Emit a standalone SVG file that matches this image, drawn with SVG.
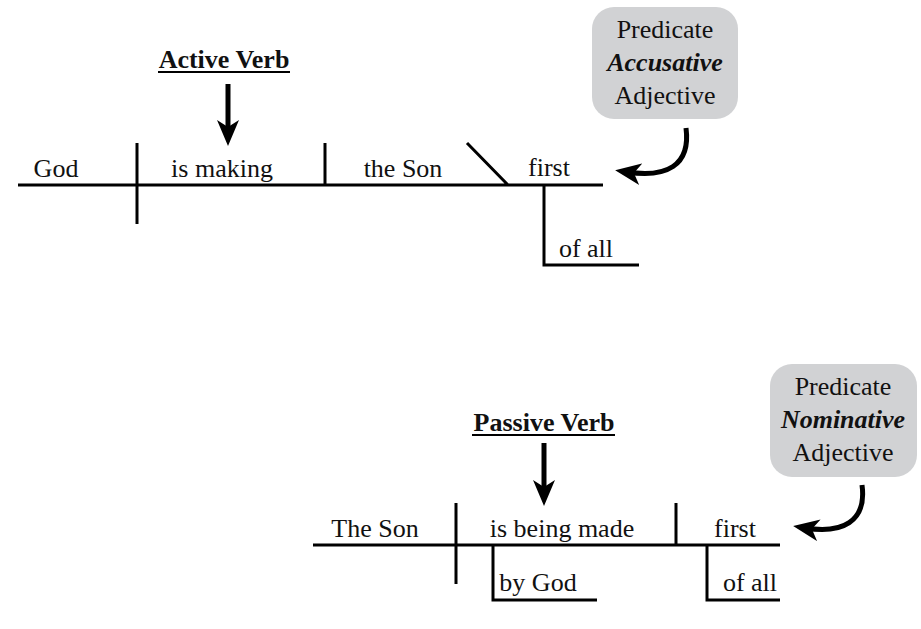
<svg xmlns="http://www.w3.org/2000/svg" width="921" height="629" viewBox="0 0 921 629" font-family="'Liberation Serif', 'DejaVu Serif', serif">
  <style>
    text { font-family: 'Liberation Serif', 'DejaVu Serif', serif; }
    .t { font-size: 26px; fill: #111; text-anchor: middle; }
    .b { font-weight: bold; }
    .bi { font-weight: bold; font-style: italic; }
    .ln { stroke: #000; stroke-width: 3; fill: none; }
    .ul { stroke: #000; stroke-width: 2; }
    .box { fill: #d1d2d4; }
    .arr { stroke: #000; stroke-width: 5; fill: none; marker-end: url(#head); }
  </style>
  <defs>
    <marker id="head" markerUnits="userSpaceOnUse" viewBox="0 0 26 22" markerWidth="26" markerHeight="22" refX="14" refY="11" orient="auto">
      <path d="M0,0 L26,11 L0,22 L7,11 z" fill="#000"/>
    </marker>
  </defs>

  <rect width="921" height="629" fill="#fff"/>

  <!-- Active sentence: God is making the Son first of all -->
  <g id="active-diagram">
    <path class="ln" d="M18,185 H603 M137,143 V224 M325,143 V185 M467,143 L508,185 M544,185 V265 H639"/>
    <text class="t" x="56" y="177">God</text>
    <text class="t" x="222" y="177">is making</text>
    <text class="t" x="403" y="177">the Son</text>
    <text class="t" x="549" y="176">first</text>
    <text class="t" x="586" y="257">of all</text>
  </g>

  <g id="active-label">
    <text class="t b" x="224" y="68">Active Verb</text>
    <line class="ul" x1="158" y1="72" x2="290" y2="72"/>
  </g>

  <g id="accusative-note">
    <rect class="box" x="592" y="7" width="146" height="112" rx="22"/>
    <text class="t" x="665" y="38">Predicate</text>
    <text class="t bi" x="665" y="71">Accusative</text>
    <text class="t" x="665" y="104">Adjective</text>
  </g>

  <!-- Passive sentence: The Son is being made first by God of all -->
  <g id="passive-diagram">
    <path class="ln" d="M313,545 H780 M456,503 V584 M676,503 V545 M493,545 V600 H597 M707,545 V600 H780"/>
    <text class="t" x="375" y="537">The Son</text>
    <text class="t" x="562" y="537">is being made</text>
    <text class="t" x="735" y="537">first</text>
    <text class="t" x="538" y="591">by God</text>
    <text class="t" x="750" y="591">of all</text>
  </g>

  <g id="passive-label">
    <text class="t b" x="544" y="431">Passive Verb</text>
    <line class="ul" x1="472" y1="435" x2="615" y2="435"/>
  </g>

  <g id="nominative-note">
    <rect class="box" x="770" y="364" width="147" height="113" rx="22"/>
    <text class="t" x="843" y="395">Predicate</text>
    <text class="t bi" x="843" y="428">Nominative</text>
    <text class="t" x="843" y="461">Adjective</text>
  </g>

  <g id="connectors">
    <path class="arr" d="M228,84 V134"/>
    <path class="arr" d="M544,443 V494"/>
    <path class="arr" d="M686,128 C691,166 666,178 627,172"/>
    <path class="arr" d="M862,485 C867,522 842,534 805,528"/>
  </g>
</svg>
